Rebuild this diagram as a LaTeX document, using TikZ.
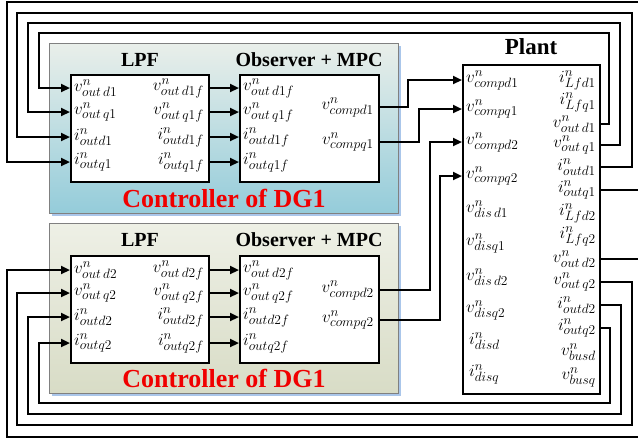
\RequirePackage{fix-cm}
\documentclass[tikz,border=0pt]{standalone}
\usepackage{fontspec}
\setmainfont{Liberation Serif}
\usepackage{tikz}
\usetikzlibrary{arrows.meta}
\DeclareMathSizes{17}{17}{13.5}{10}
\definecolor{ctrltop}{RGB}{234, 239, 234}
\definecolor{ctrlblue}{RGB}{148, 204, 218}
\definecolor{khakitop}{RGB}{238, 240, 230}
\definecolor{khaki}{RGB}{216, 220, 198}
\definecolor{shadowblue}{RGB}{170, 198, 234}
\definecolor{ctrlred}{RGB}{240, 0, 0}

\tikzset{
  blk/.style={draw, line width=2.2pt, fill=white, anchor=north west},
  sig/.style={font=\fontsize{17}{18}\selectfont, inner sep=1pt},
  wire/.style={line width=2.2pt},
  arr/.style={wire, -{Triangle[length=9pt, width=8pt]}},
  ttl/.style={font=\fontsize{20}{22}\selectfont\bfseries},
  ctrl/.style={font=\fontsize{26}{28}\selectfont\bfseries, text=ctrlred}
}

\begin{document}
\begin{tikzpicture}[x=1pt, y=-1pt]

  \useasboundingbox (0, 0) rectangle (638, 440);

  % controller backgrounds
  \fill[shadowblue] (52, 46) rectangle (401, 216);
  \shadedraw[top color=ctrltop, bottom color=ctrlblue, draw=gray, line width=0.6pt] (49, 43) rectangle (398, 213);
  \fill[shadowblue] (52, 226) rectangle (401, 396);
  \shadedraw[top color=khakitop, bottom color=khaki, draw=gray, line width=0.6pt] (49, 223) rectangle (398, 393);

  \node[ttl] (t1a) at (140, 60) {LPF};
  \node[ttl] (t1b) at (309, 60) {Observer + MPC};
  \node[ctrl] (c1) at (224, 198) {Controller of DG1};
  \node[ttl] (t2a) at (140, 240) {LPF};
  \node[ttl] (t2b) at (309, 240) {Observer + MPC};
  \node[ctrl] (c2) at (224, 378) {Controller of DG1};
  \node[ttl, font=\fontsize{23}{25}\selectfont\bfseries] (tp) at (531, 47) {Plant};

  % blocks
  \node[blk, minimum width=138, minimum height=107] (lpf1) at (70, 74) {};
  \node[blk, minimum width=139, minimum height=107] (mpc1) at (239, 74) {};
  \node[blk, minimum width=138, minimum height=107] (lpf2) at (70, 255) {};
  \node[blk, minimum width=139, minimum height=107] (mpc2) at (239, 255) {};
  \node[blk, minimum width=137, minimum height=329] (plant) at (462, 64) {};

  % LPF of DG1
  \node[sig, anchor=west] (l1a) at (73, 88) {$v^{n}_{out\,d1}$};
  \node[sig, anchor=west] (l1b) at (73, 112) {$v^{n}_{out\,q1}$};
  \node[sig, anchor=west] (l1c) at (73, 137) {$i^{n}_{outd1}$};
  \node[sig, anchor=west] (l1d) at (73, 162) {$i^{n}_{outq1}$};
  \node[sig, anchor=east] (l1e) at (205, 88) {$v^{n}_{out\,d1f}$};
  \node[sig, anchor=east] (l1f) at (205, 112) {$v^{n}_{out\,q1f}$};
  \node[sig, anchor=east] (l1g) at (205, 137) {$i^{n}_{outd1f}$};
  \node[sig, anchor=east] (l1h) at (205, 162) {$i^{n}_{outq1f}$};

  % Observer + MPC of DG1
  \node[sig, anchor=west] (m1a) at (242, 88) {$v^{n}_{out\,d1f}$};
  \node[sig, anchor=west] (m1b) at (242, 112) {$v^{n}_{out\,q1f}$};
  \node[sig, anchor=west] (m1c) at (242, 137) {$i^{n}_{outd1f}$};
  \node[sig, anchor=west] (m1d) at (242, 162) {$i^{n}_{outq1f}$};
  \node[sig, anchor=east] (m1e) at (375, 107) {$v^{n}_{compd1}$};
  \node[sig, anchor=east] (m1f) at (375, 142) {$v^{n}_{compq1}$};

  % LPF of the second DG
  \node[sig, anchor=west] (l2a) at (73, 270) {$v^{n}_{out\,d2}$};
  \node[sig, anchor=west] (l2b) at (73, 293) {$v^{n}_{out\,q2}$};
  \node[sig, anchor=west] (l2c) at (73, 317) {$i^{n}_{outd2}$};
  \node[sig, anchor=west] (l2d) at (73, 343) {$i^{n}_{outq2}$};
  \node[sig, anchor=east] (l2e) at (205, 270) {$v^{n}_{out\,d2f}$};
  \node[sig, anchor=east] (l2f) at (205, 293) {$v^{n}_{out\,q2f}$};
  \node[sig, anchor=east] (l2g) at (205, 317) {$i^{n}_{outd2f}$};
  \node[sig, anchor=east] (l2h) at (205, 343) {$i^{n}_{outq2f}$};

  \node[sig, anchor=west] (m2a) at (242, 270) {$v^{n}_{out\,d2f}$};
  \node[sig, anchor=west] (m2b) at (242, 293) {$v^{n}_{out\,q2f}$};
  \node[sig, anchor=west] (m2c) at (242, 317) {$i^{n}_{outd2f}$};
  \node[sig, anchor=west] (m2d) at (242, 343) {$i^{n}_{outq2f}$};
  \node[sig, anchor=east] (m2e) at (375, 290) {$v^{n}_{compd2}$};
  \node[sig, anchor=east] (m2f) at (375, 320) {$v^{n}_{compq2}$};

  % plant, left column
  \node[sig, anchor=west] (pl1) at (465, 80) {$v^{n}_{compd1}$};
  \node[sig, anchor=west] (pl2) at (465, 109) {$v^{n}_{compq1}$};
  \node[sig, anchor=west] (pl3) at (465, 142) {$v^{n}_{compd2}$};
  \node[sig, anchor=west] (pl4) at (465, 176) {$v^{n}_{compq2}$};
  \node[sig, anchor=west] (pl5) at (465, 209) {$v^{n}_{dis\,d1}$};
  \node[sig, anchor=west] (pl6) at (465, 243) {$v^{n}_{disq1}$};
  \node[sig, anchor=west] (pl7) at (465, 277) {$v^{n}_{dis\,d2}$};
  \node[sig, anchor=west] (pl8) at (465, 310) {$v^{n}_{disq2}$};
  \node[sig, anchor=west] (pl9) at (468, 341) {$i^{n}_{disd}$};
  \node[sig, anchor=west] (pl10) at (468, 374) {$i^{n}_{disq}$};

  % plant, right column
  \node[sig, anchor=east] (pr1) at (597, 80) {$i^{n}_{Lfd1}$};
  \node[sig, anchor=east] (pr2) at (597, 102) {$i^{n}_{Lfq1}$};
  \node[sig, anchor=east] (pr3) at (597, 124) {$v^{n}_{out\,d1}$};
  \node[sig, anchor=east] (pr4) at (597, 145) {$v^{n}_{out\,q1}$};
  \node[sig, anchor=east] (pr5) at (597, 167) {$i^{n}_{outd1}$};
  \node[sig, anchor=east] (pr6) at (597, 190) {$i^{n}_{outq1}$};
  \node[sig, anchor=east] (pr7) at (597, 213) {$i^{n}_{Lfd2}$};
  \node[sig, anchor=east] (pr8) at (597, 236) {$i^{n}_{Lfq2}$};
  \node[sig, anchor=east] (pr9) at (597, 259) {$v^{n}_{out\,d2}$};
  \node[sig, anchor=east] (pr10) at (597, 282) {$v^{n}_{out\,q2}$};
  \node[sig, anchor=east] (pr11) at (597, 305) {$i^{n}_{outd2}$};
  \node[sig, anchor=east] (pr12) at (597, 328) {$i^{n}_{outq2}$};
  \node[sig, anchor=east] (pr13) at (597, 352) {$v^{n}_{busd}$};
  \node[sig, anchor=east] (pr14) at (597, 377) {$v^{n}_{busq}$};

  % LPF -> MPC
  \draw[arr] (lpf1.east |- m1a) -- (mpc1.west |- m1a);
  \draw[arr] (lpf1.east |- m1b) -- (mpc1.west |- m1b);
  \draw[arr] (lpf1.east |- m1c) -- (mpc1.west |- m1c);
  \draw[arr] (lpf1.east |- m1d) -- (mpc1.west |- m1d);
  \draw[arr] (lpf2.east |- m2a) -- (mpc2.west |- m2a);
  \draw[arr] (lpf2.east |- m2b) -- (mpc2.west |- m2b);
  \draw[arr] (lpf2.east |- m2c) -- (mpc2.west |- m2c);
  \draw[arr] (lpf2.east |- m2d) -- (mpc2.west |- m2d);

  % MPC -> plant
  \draw[arr] (mpc1.east |- m1e) -| (408,0 |- pl1) -- (plant.west |- pl1);
  \draw[arr] (mpc1.east |- m1f) -| (419,0 |- pl2) -- (plant.west |- pl2);
  \draw[arr] (mpc2.east |- m2e) -| (430,0 |- pl3) -- (plant.west |- pl3);
  \draw[arr] (mpc2.east |- m2f) -| (440,0 |- pl4) -- (plant.west |- pl4);

  % feedback of DG1 (over the top)
  \draw[arr] (plant.east |- pr3) -| (609, 33) -| (39,0 |- l1a) -- (lpf1.west |- l1a);
  \draw[arr] (plant.east |- pr4) -| (620, 23) -| (28,0 |- l1b) -- (lpf1.west |- l1b);
  \draw[arr] (plant.east |- pr5) -| (632, 13) -| (17,0 |- l1c) -- (lpf1.west |- l1c);
  \draw[arr] (plant.east |- pr6) -| (642, 2) -| (7,0 |- l1d) -- (lpf1.west |- l1d);

  % feedback of the second DG (under the bottom)
  \draw[arr] (plant.east |- pr9) -| (642, 437) -| (7,0 |- l2a) -- (lpf2.west |- l2a);
  \draw[arr] (plant.east |- pr10) -| (632, 425) -| (17,0 |- l2b) -- (lpf2.west |- l2b);
  \draw[arr] (plant.east |- pr11) -| (621, 414) -| (28,0 |- l2c) -- (lpf2.west |- l2c);
  \draw[arr] (plant.east |- pr12) -| (610, 403) -| (39,0 |- l2d) -- (lpf2.west |- l2d);

\end{tikzpicture}
\end{document}
